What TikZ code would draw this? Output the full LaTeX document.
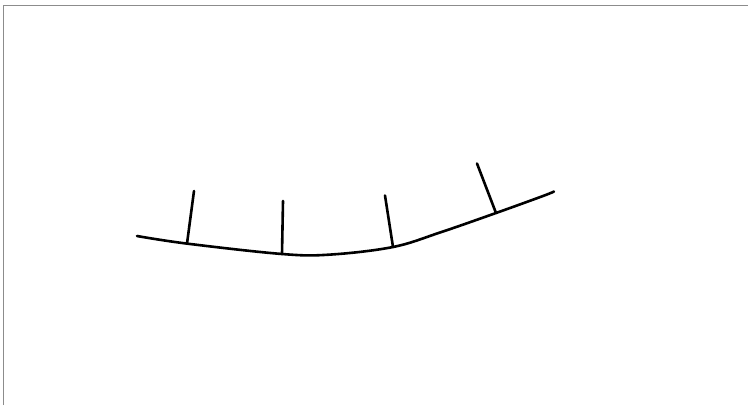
\documentclass[tikz,border=0pt]{standalone}
\begin{document}
\begin{tikzpicture}[x=1pt,y=-1pt,
  curveline/.style={line width=2.6pt,black,line cap=round,line join=round},
  framebox/.style={line width=1.4pt,color=black!45}]
\useasboundingbox (0,0) rectangle (748,405);
\fill[white] (0,0) rectangle (748,405);
\draw[framebox] (3.5,405) -- (3.5,5.5) -- (748,5.5);
% base points on the curve
\coordinate (s) at (137,236);
\coordinate (b1) at (187,243.6);
\coordinate (b2) at (282,254);
\coordinate (b3) at (393,247);
\coordinate (b4) at (496,213);
\coordinate (e) at (554,191.5);
% tick tips
\coordinate (t1) at (194,191);
\coordinate (t2) at (283,201);
\coordinate (t3) at (385,195.5);
\coordinate (t4) at (477,163.5);
\draw[curveline] plot[smooth,tension=0.6] coordinates
  {(137,236) (187,243.6) (282,254) (330,254.6) (393,247) (440,232.5) (496,213) (543,196) (554,191.5)};
\draw[curveline] (b1) -- (t1);
\draw[curveline] (b2) -- (t2);
\draw[curveline] (b3) -- (t3);
\draw[curveline] (b4) -- (t4);
\end{tikzpicture}
\end{document}
